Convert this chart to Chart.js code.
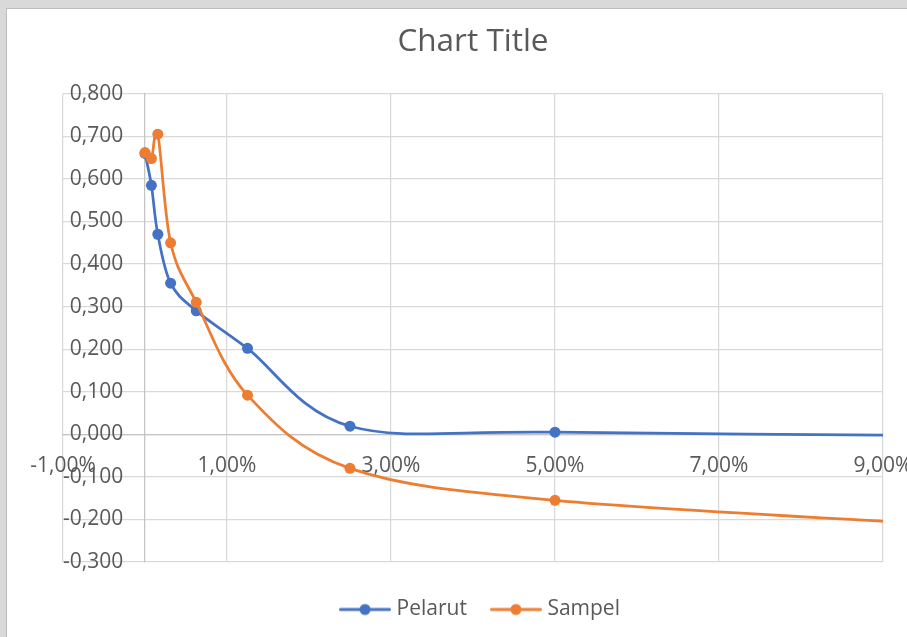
<!DOCTYPE html>
<html>
<head>
<meta charset="utf-8">
<title>Chart Title</title>
<script src="https://cdn.jsdelivr.net/npm/chart.js@4"></script>
<style>
  html, body { margin: 0; padding: 0; width: 907px; height: 637px; overflow: hidden; background: #d9d9d9; }
  #frame { position: absolute; left: 6px; top: 8px; width: 901px; height: 629px; background: #fff;
           border-left: 1px solid #bdbdbd; border-top: 1px solid #bdbdbd; box-sizing: border-box; }
  #wrap { position: absolute; left: 0; top: 0; width: 900px; height: 628px; }
</style>
</head>
<body>
<div id="frame"><div id="wrap"><canvas id="chart"></canvas></div></div>
<script>
// Concentration (%) of each dilution step
const concentrations = [0, 0.078125, 0.15625, 0.3125, 0.625, 1.25, 2.5, 5, 10];
// Measured values per series
const pelarut = [0.660, 0.585, 0.470, 0.355, 0.290, 0.202, 0.019, 0.005, -0.003];
const sampel  = [0.662, 0.648, 0.705, 0.450, 0.310, 0.092, -0.080, -0.155, -0.215];
const seriesNames = ['Pelarut', 'Sampel'];
const seriesColors = ['#4472C4', '#ED7D31'];

const FONT = '"Open Sans", "Noto Sans", sans-serif';
const TEXT = '#595959';

const toPoints = vals => concentrations.map((c, i) => ({ x: c, y: vals[i] }));
const fmtDec = v => v.toFixed(3).replace('.', ',');
const fmtPct = v => v.toFixed(2).replace('.', ',') + '%';

// Legend swatch: short line with a marker in the middle
function swatch(color) {
  const c = document.createElement('canvas');
  c.width = 52; c.height = 14;
  const g = c.getContext('2d');
  g.strokeStyle = color; g.lineWidth = 3; g.lineCap = 'round';
  g.beginPath(); g.moveTo(1.5, 7); g.lineTo(50.5, 7); g.stroke();
  g.fillStyle = color;
  g.beginPath(); g.arc(26, 7, 5.5, 0, Math.PI * 2); g.fill();
  return c;
}

// Smoothed-line control points: uniform Catmull-Rom (neighbour chord / 6)
const smoothLine = {
  id: 'smoothLine',
  beforeDatasetDraw(chart, args) {
    const pts = args.meta.data, line = args.meta.dataset, n = pts.length;
    for (let i = 0; i < n; i++) {
      const p = pts[i], a = pts[Math.max(i - 1, 0)], b = pts[Math.min(i + 1, n - 1)];
      const dx = (b.x - a.x) / 6, dy = (b.y - a.y) / 6;
      p.cp1x = p.x - dx; p.cp1y = p.y - dy;
      p.cp2x = p.x + dx; p.cp2y = p.y + dy;
    }
    line._pointsUpdated = true;
    line._path = undefined;
  }
};

new Chart(document.getElementById('chart'), {
  type: 'line',
  plugins: [smoothLine],
  data: {
    datasets: [
      { label: seriesNames[0], data: toPoints(pelarut), order: 1 },
      { label: seriesNames[1], data: toPoints(sampel), order: 0 }
    ].map((d, i) => Object.assign(d, {
      borderColor: seriesColors[i],
      backgroundColor: seriesColors[i],
      borderWidth: 2.75,
      pointRadius: 5.5,
      pointHoverRadius: 5.5,
      pointBorderWidth: 0,
      tension: 0.5,
      fill: false
    }))
  },
  options: {
    responsive: true,
    maintainAspectRatio: false,
    animation: false,
    layout: { padding: { left: 50, right: 0, top: 0, bottom: 7 } },
    scales: {
      x: {
        type: 'linear',
        min: -1, max: 9,
        position: { y: 0 },
        afterFit: s => { s.paddingLeft = 56; s.paddingRight = 24; },
        ticks: { stepSize: 2, color: TEXT, font: { family: FONT, size: 21 }, padding: 19, callback: v => fmtPct(v), maxRotation: 0 },
        grid: { color: '#d9d9d9', lineWidth: 1.25, drawTicks: false },
        border: { color: '#c4c4c4', width: 1.25 }
      },
      y: {
        type: 'linear',
        min: -0.3, max: 0.8,
        position: { x: 0 },
        afterFit: s => { s.paddingTop = 0; s.paddingBottom = 0; },
        ticks: { stepSize: 0.1, color: TEXT, font: { family: FONT, size: 21 }, callback: v => fmtDec(v) + '    ' },
        grid: { color: '#d9d9d9', lineWidth: 1.25, drawTicks: false },
        border: { color: '#c4c4c4', width: 1.25 }
      }
    },
    plugins: {
      title: {
        display: true, text: 'Chart Title', color: TEXT, fullSize: false,
        font: { family: FONT, size: 31.5, weight: 'normal' },
        padding: { top: 14, bottom: 33 }
      },
      legend: {
        position: 'bottom',
        title: { display: true, text: ' ', font: { size: 9, lineHeight: 1 }, padding: 0 },
        labels: {
          color: TEXT, font: { family: FONT, size: 21 },
          usePointStyle: true, pointStyleWidth: 42, padding: 28,
          generateLabels(chart) {
            const items = Chart.defaults.plugins.legend.labels.generateLabels(chart);
            items.sort((a, b) => a.datasetIndex - b.datasetIndex);
            items.forEach(it => { it.pointStyle = swatch(seriesColors[it.datasetIndex]); });
            return items;
          }
        }
      },
      tooltip: { enabled: false }
    }
  }
});
</script>
</body>
</html>
